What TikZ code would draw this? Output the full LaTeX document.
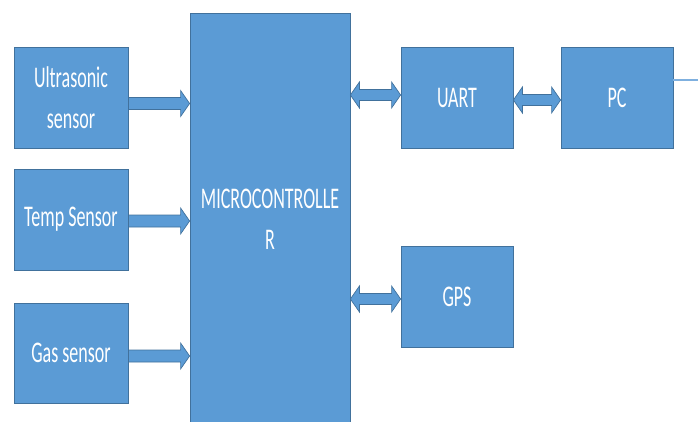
\documentclass[tikz,border=0pt]{standalone}
\usepackage{fontspec}
\usepackage{graphicx}
\setmainfont{Carlito}
\usetikzlibrary{calc}
\definecolor{boxblue}{HTML}{5B9BD5}
\definecolor{boxedge}{HTML}{41719C}
\definecolor{lineblue}{HTML}{7FB0DF}
\newcommand{\sq}[1]{\scalebox{0.6}[1]{#1}}
\tikzset{
  block/.style={draw=boxedge, fill=boxblue, text=white, line width=0.8pt,
    font=\fontsize{30}{41}\selectfont, align=center, inner sep=1pt},
  blockarrow/.style={draw=boxedge, fill=boxblue, line width=0.7pt, line join=miter}
}
% one-way block arrow from #1 to #2, shifted down by #3
\newcommand{\onewayarrow}[3]{%
  \filldraw[blockarrow] let \p1=($(#1.east)+(0,#3)$), \p2=(#2.west) in
    (\x1,\y1+6pt) -- (\x2-9pt,\y1+6pt) -- (\x2-9pt,\y1+13pt) -- (\x2,\y1)
    -- (\x2-9pt,\y1-13pt) -- (\x2-9pt,\y1-6pt) -- (\x1,\y1-6pt) -- cycle;}
% two-way block arrow between #1 and #2, at the height of #2 shifted down by #3
\newcommand{\twowayarrow}[3]{%
  \filldraw[blockarrow] let \p1=(#1.east), \p2=($(#2.west)+(0,#3)$) in
    (\x1,\y2) -- (\x1+9pt,\y2+13pt) -- (\x1+9pt,\y2+5.5pt) -- (\x2-9pt,\y2+5.5pt)
    -- (\x2-9pt,\y2+13pt) -- (\x2,\y2) -- (\x2-9pt,\y2-13pt) -- (\x2-9pt,\y2-5.5pt)
    -- (\x1+9pt,\y2-5.5pt) -- (\x1+9pt,\y2-13pt) -- cycle;}
\begin{document}
\begin{tikzpicture}[x=1pt,y=-1pt]
\useasboundingbox (0,0) rectangle (698,421);
\clip (0,0) rectangle (698,421);
% sensors
\node[block, minimum width=114pt, minimum height=101pt] (ultra) at (71,97.5) {\sq{Ultrasonic}\\\sq{sensor}};
\node[block, minimum width=114pt, minimum height=101pt] (temp) at (71,219.5) {\sq{Temp Sensor}};
\node[block, minimum width=114pt, minimum height=100pt] (gas) at (71,353) {\sq{Gas sensor}};
% controller
\node[block, minimum width=160pt, minimum height=412pt] (mcu) at (270,219) {\sq{MICROCONTROLLE}\\\sq{R}};
% outputs
\node[block, minimum width=112pt, minimum height=101pt] (uart) at (457,97.5) {\sq{UART}};
\node[block, minimum width=112pt, minimum height=101pt] (pc) at (617,97.5) {\sq{PC}};
\node[block, minimum width=112pt, minimum height=101pt] (gps) at (457,296.5) {\sq{GPS}};
\coordinate (pcend) at (698,80);
% arrows
\onewayarrow{ultra}{mcu}{6}
\onewayarrow{temp}{mcu}{1.5}
\onewayarrow{gas}{mcu}{3}
\twowayarrow{mcu}{uart}{-2.5}
\twowayarrow{uart}{pc}{2.5}
\twowayarrow{mcu}{gps}{2.5}
\draw[lineblue, line width=1.5pt] (pc.east |- pcend) -- (pcend);
\end{tikzpicture}
\end{document}
